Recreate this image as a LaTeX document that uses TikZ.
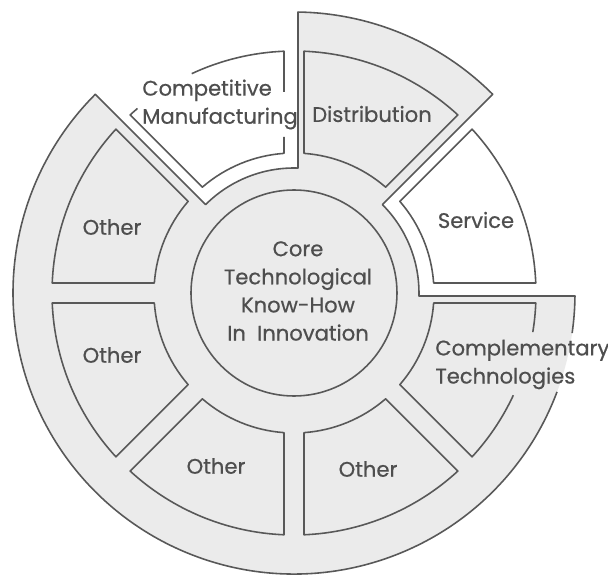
\documentclass[tikz,border=0pt]{standalone}
\usepackage{fontspec}
\setmainfont{Poppins}[FakeBold=0.6]
\usepackage{tikz}
\definecolor{inkgray}{RGB}{88,88,88}
\definecolor{panelgray}{RGB}{235,235,235}
\definecolor{labelgray}{RGB}{78,78,78}
\tikzset{
  edge/.style={draw=inkgray, line width=0.9pt, line join=round},
  seg/.style={edge, fill=panelgray},
  txt/.style={text=labelgray, font=\fontsize{12}{16}\selectfont, inner sep=0pt}
}

\begin{document}
\begin{tikzpicture}[x=0.2mm, y=0.2mm]
\useasboundingbox (-294,-282) rectangle (314,293);

% grey body: ring round the core plus the outer wedges
\fill[panelgray] (124.96,-3) -- (280.98,-3) arc[start angle=-0.61, end angle=-225, radius=281]
  -- (135:125) arc[start angle=135, end angle=88.17, radius=125]
  -- (89.18:281) arc[start angle=89.18, end angle=45, radius=281]
  -- (45:125) arc[start angle=45, end angle=-1.38, radius=125] -- cycle;
\draw[edge] (-20.6:281) arc[start angle=-20.6, end angle=-225, radius=281]
  -- (135:125) arc[start angle=135, end angle=88.17, radius=125]
  -- (89.18:281) arc[start angle=89.18, end angle=45, radius=281]
  -- (45:125) arc[start angle=45, end angle=-1.38, radius=125]
  -- (280.98,-3) arc[start angle=-0.61, end angle=-8.2, radius=281];

% core
\node[seg, circle, minimum size=41.2mm, inner sep=0pt] (core) at (0,0) {};
\node[txt, align=center] (coretext) at (4,2)
  {Core\\Technological\\Know-How\\In\ \ Innovation};

% closed segments
\foreach \a in {45,135,180,225,270}
  \draw[seg] ({\a+4.10}:140) -- ({\a+2.37}:242)
    arc[start angle=\a+2.37, end angle=\a+42.63, radius=242]
    -- ({\a+40.9}:140) arc[start angle=\a+40.9, end angle=\a+4.10, radius=140] -- cycle;
\draw[seg, fill=white] (4.10:140) -- (2.37:242)
  arc[start angle=2.37, end angle=42.63, radius=242]
  -- (40.9:140) arc[start angle=40.9, end angle=4.10, radius=140] -- cycle;

% open segments, cut where the labels run over
\draw[edge] (-25:242) arc[start angle=-25, end angle=-42.63, radius=242]
  -- (-40.9:140) arc[start angle=-40.9, end angle=-4.10, radius=140]
  -- (-2.37:242) arc[start angle=-2.37, end angle=-9.3, radius=242];
\draw[edge] (-10,201) -- (92.37:242) arc[start angle=92.37, end angle=115, radius=242];
\draw[edge] (130.3:242) arc[start angle=130.3, end angle=132.63, radius=242]
  -- (130.9:140) arc[start angle=130.9, end angle=94.10, radius=140] -- (-10,156);

% labels
\node[txt, anchor=west, align=left] (manuf) at (-152,188.5) {Competitive\\Manufacturing};
\node[txt] (distr) at (78,179) {Distribution};
\node[txt] (serv) at (182,73) {Service};
\node[txt, anchor=west, align=left] (compl) at (141,-71.5) {Complementary\\Technologies};
\node[txt] (oth1) at (-182,66) {Other};
\node[txt] (oth2) at (-182,-62) {Other};
\node[txt] (oth3) at (-78,-173) {Other};
\node[txt] (oth4) at (74,-176) {Other};
\end{tikzpicture}
\end{document}
